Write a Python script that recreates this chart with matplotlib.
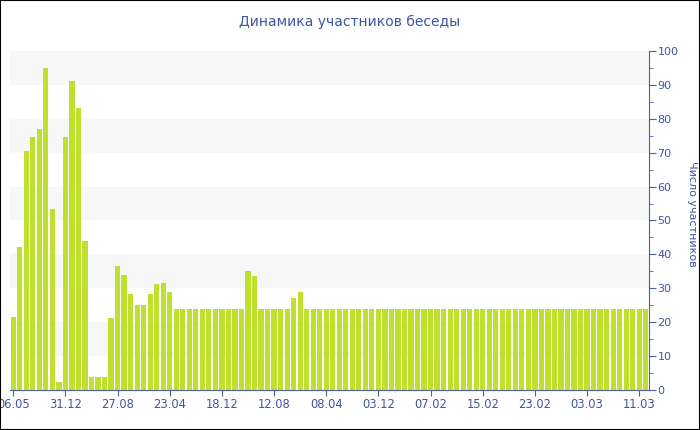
import matplotlib
matplotlib.use('Agg')
import matplotlib.pyplot as plt
from matplotlib.patches import Rectangle
from matplotlib.ticker import MultipleLocator

# values
participants = [
    21.6, 42.3, 70.5, 74.7, 76.9, 94.9, 53.5, 2.5, 74.7, 91.2,
    83.3, 44.0, 3.9, 3.9, 3.9, 21.1, 36.6, 34.0, 28.2, 25.1,
    25.1, 28.2, 31.2, 31.7, 29.0, 24, 24, 24, 24, 24,
    24, 24, 24, 24, 24, 24, 35.0, 33.7, 24, 24,
    24, 24, 24, 27.2, 28.9, 24, 24, 24, 24, 24,
    24, 24, 24, 24, 24, 24, 24, 24, 24, 24,
    24, 24, 24, 24, 24, 24, 24, 24, 24, 24,
    24, 24, 24, 24, 24, 24, 24, 24, 24, 24,
    24, 24, 24, 24, 24, 24, 24, 24, 24, 24,
    24, 24, 24, 24, 24, 24, 24, 24,
]
date_labels = ['06.05', '31.12', '27.08', '23.04', '18.12', '12.08', '08.04',
               '03.12', '07.02', '15.02', '23.02', '03.03', '11.03']
label_step = 8

axis_color = '#4d5ea8'
text_color = '#3f55a0'
bar_color = '#bfe02e'

fig = plt.figure(figsize=(7, 4.3), dpi=100)
ax = fig.add_axes([10 / 700, 1 - 390 / 430, 639 / 700, 339 / 430])

# alternating background bands
for lo in range(10, 100, 20):
    ax.axhspan(lo, lo + 10, color='#f7f7f7', zorder=0, lw=0)

x = list(range(len(participants)))
ax.bar(x, participants, width=0.8, color=bar_color, zorder=2)

ax.set_xlim(-0.5, len(participants) - 0.5)
ax.set_ylim(0, 100)

ax.set_xticks(x[::label_step])
ax.set_xticklabels(date_labels)

ax.yaxis.tick_right()
ax.yaxis.set_label_position('right')
ax.yaxis.set_major_locator(MultipleLocator(10))
ax.yaxis.set_minor_locator(MultipleLocator(5))
ax.set_ylabel('Число участников', rotation=270, color=text_color, fontsize=8,
              va='center', ha='center')
ax.yaxis.set_label_coords(1.067, 0.519)

for side in ['left', 'top']:
    ax.spines[side].set_visible(False)
for side in ['bottom', 'right']:
    ax.spines[side].set_color(axis_color)

ax.tick_params(axis='x', colors=axis_color, labelcolor=text_color,
               labelsize=8.3, length=4, pad=2)
ax.tick_params(axis='y', which='major', colors=axis_color, labelcolor=text_color,
               labelsize=8, length=5, pad=1)
ax.tick_params(axis='y', which='minor', colors=axis_color, length=3)

fig.text(0.5, 1 - 22 / 430, 'Динамика участников беседы', ha='center', va='center',
         color=text_color, fontsize=10)

# thin black frame round the whole picture
fig.add_artist(Rectangle((0, 0), 1, 1, transform=fig.transFigure, fill=False,
                         edgecolor='black', lw=1.5))

fig.savefig('out.png', dpi=100)
